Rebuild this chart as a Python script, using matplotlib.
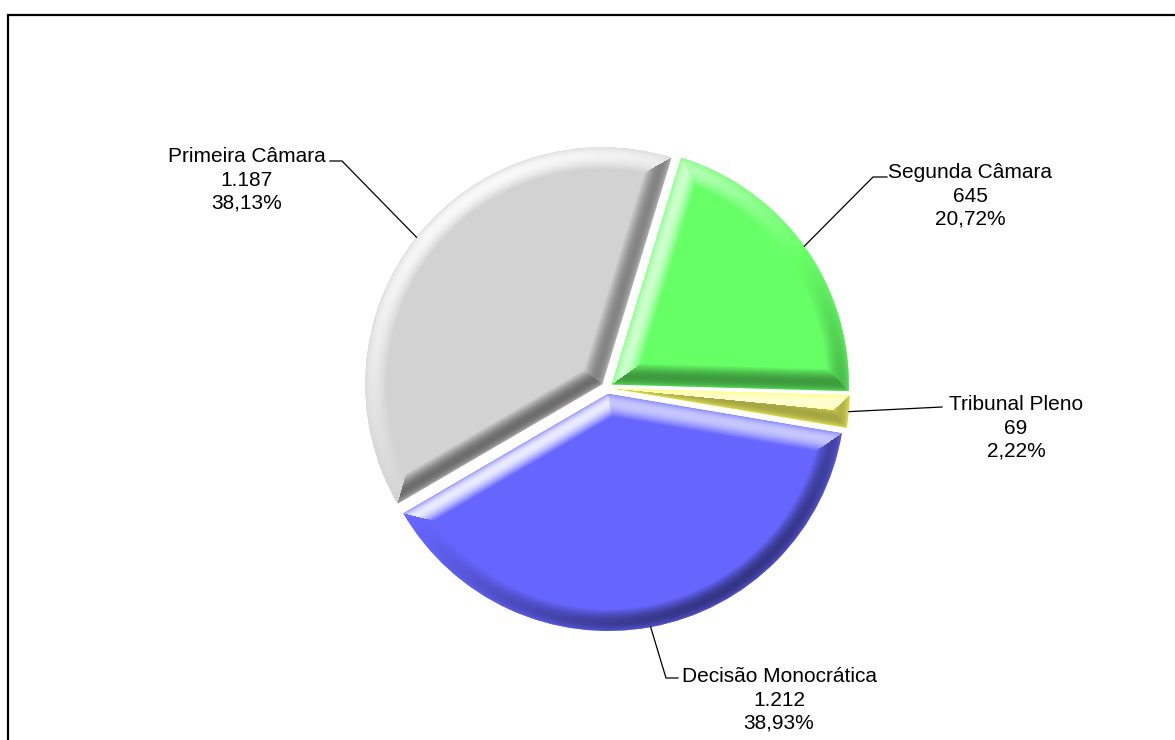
import numpy as np
import matplotlib.pyplot as plt
from matplotlib.patches import Rectangle

plt.rcParams['font.family'] = ['Liberation Sans', 'DejaVu Sans']

labels = ['Segunda Câmara', 'Tribunal Pleno', 'Decisão Monocrática', 'Primeira Câmara']
counts = [645, 69, 1212, 1187]
count_text = ['645', '69', '1.212', '1.187']
pct_text = ['20,72%', '2,22%', '38,93%', '38,13%']
colors = ['#66FF66', '#FFFF66', '#6666FF', '#D2D2D2']

W, H = 1175, 740
fig = plt.figure(figsize=(W / 100, H / 100), dpi=100)
ax = fig.add_axes([0, 0, 1, 1])

# axes in pixel units, y pointing up
cx, cy, R = 607, H - 388, 237
wedges, _ = ax.pie(counts, colors=colors, startangle=73, counterclock=False,
                   radius=R, center=(cx, cy), explode=[6] * 4,
                   wedgeprops=dict(linewidth=0))
ax.set_xlim(0, W)
ax.set_ylim(0, H)
ax.set_aspect('equal')
ax.axis('off')

# bevel shading clipped to each wedge
light = np.array([-0.55, 0.83])
light /= np.hypot(*light)
bw, k_light, k_dark = 22.0, 0.9, 0.5
yy, xx = np.mgrid[0:H, 0:W] + 0.5
for w, col in zip(wedges, colors):
    base = np.array(plt.matplotlib.colors.to_rgb(col))
    x0, y0 = w.center
    t1, t2 = np.radians(w.theta1), np.radians(w.theta2)
    px, py = xx - x0, yy - y0
    rho = np.hypot(px, py) + 1e-9
    d = np.stack([w.r - rho,
                  py * np.cos(t1) - px * np.sin(t1),
                  px * np.sin(t2) - py * np.cos(t2)])
    dots = np.stack([(px * light[0] + py * light[1]) / rho,
                     np.full_like(px, np.sin(t1) * light[0] - np.cos(t1) * light[1]),
                     np.full_like(px, -np.sin(t2) * light[0] + np.cos(t2) * light[1])])
    idx = np.argmin(d, axis=0)[None]
    dmin = np.take_along_axis(d, idx, 0)[0]
    dot = np.take_along_axis(dots, idx, 0)[0]
    t = np.clip(dmin / bw, 0, 1)
    s = 0.75 * np.sin(np.pi * t ** 0.8) + 0.35 * (1 - t)
    shade = (s * dot)[..., None]
    rgb = np.where(shade > 0, base + (1 - base) * shade * k_light,
                   base * (1 + shade * k_dark))
    im = ax.imshow(np.clip(rgb, 0, 1), extent=(0, W, 0, H), origin='lower',
                   interpolation='bilinear', zorder=2)
    im.set_clip_path(w)
ax.set_xlim(0, W)
ax.set_ylim(0, H)

# label blocks: (text centre x, text centre y, elbow point, line end)
label_pos = [(970, H - 196, (873, H - 177), (887, H - 177)),
             (1016, H - 428, None, (942, H - 407)),
             (779, H - 700, (666, H - 678), (678, H - 678)),
             (247, H - 180, (342, H - 161), (330, H - 161))]

for w, lab, n, p, (tx, ty, elbow, end) in zip(wedges, labels, count_text, pct_text, label_pos):
    mid = np.radians((w.theta1 + w.theta2) / 2)
    sx = w.center[0] + w.r * np.cos(mid)
    sy = w.center[1] + w.r * np.sin(mid)
    pts = [(sx, sy)] + ([elbow] if elbow else []) + [end]
    ax.plot([q[0] for q in pts], [q[1] for q in pts], color='black', lw=0.9, zorder=3)
    ax.text(tx, ty, f'{lab}\n{n}\n{p}', ha='center', va='center', fontsize=15,
            linespacing=1.27, zorder=4)

# chart border, continues past right and bottom edges
fig.patches.append(Rectangle((8, -20), W + 40, H - 15 + 20, transform=None,
                             fill=False, edgecolor='black', linewidth=1.6))

fig.savefig('out.png', dpi=100)
